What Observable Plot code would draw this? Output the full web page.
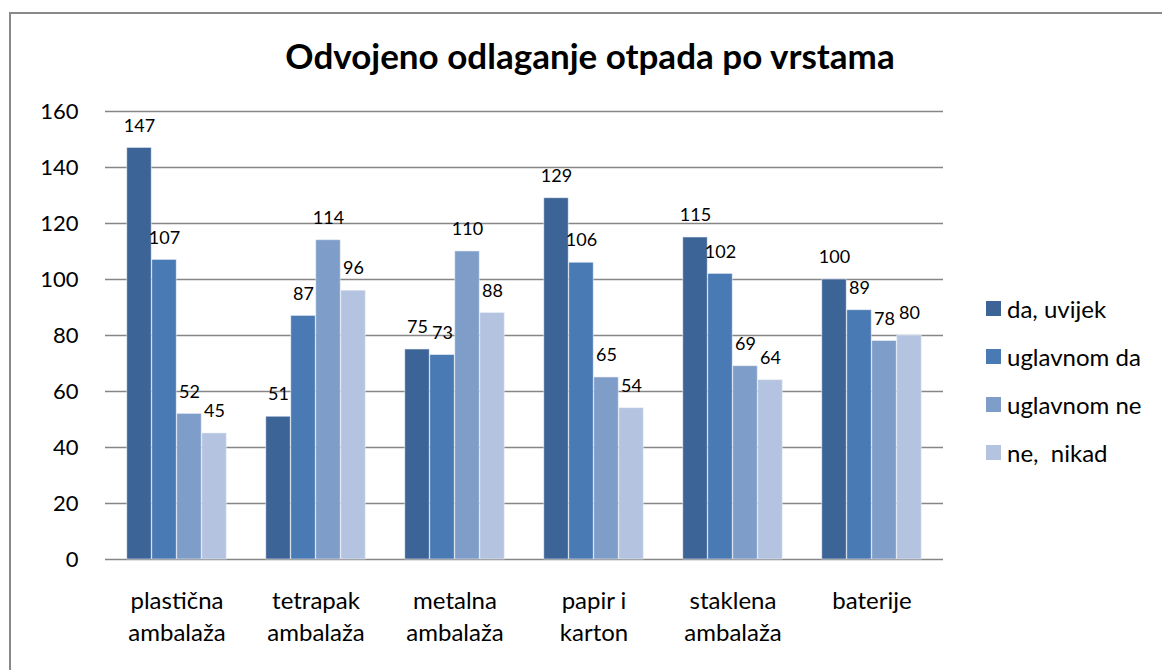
<!DOCTYPE html>
<html>
<head>
<meta charset="utf-8">
<script src="https://cdn.jsdelivr.net/npm/d3@7"></script>
<script src="https://cdn.jsdelivr.net/npm/@observablehq/plot@0.6"></script>
<style>
  body { margin: 0; background: #fff; font-family: Lato, "Open Sans", sans-serif; }
  #wrap { position: relative; width: 1162px; height: 670px; overflow: hidden; background: #fff; }
  #frame { position: absolute; left: 9px; top: 12px; width: 1200px; height: 700px; border-left: 2px solid #898989; border-top: 2px solid #898989; }
  #title { position: absolute; left: 0; width: 1180px; top: 34px; text-align: center; font-weight: 700; font-size: 35px; color: #000; }
  #chart { position: absolute; left: 0; top: 0; }
  #legend { position: absolute; left: 986px; top: 284px; font-size: 24px; color: #000; }
  .li { display: flex; align-items: center; height: 48px; }
  .sw { width: 15px; height: 15px; margin-right: 6px; }
</style>
</head>
<body>
<div id="wrap">
  <div id="frame"></div>
  <div id="chart"></div>
  <div id="title">Odvojeno odlaganje otpada po vrstama</div>
  <div id="legend"></div>
</div>
<script>
const categories = ["plastična\nambalaža", "tetrapak\nambalaža", "metalna\nambalaža", "papir i\nkarton", "staklena\nambalaža", "baterije"];
const series = ["da, uvijek", "uglavnom da", "uglavnom ne", "ne,  nikad"];
const colors = ["#3d6496", "#4a7ab3", "#7f9dc9", "#b4c3df"];
const daUvijek   = [147, 51, 75, 129, 115, 100];
const uglavnomDa = [107, 87, 73, 106, 102, 89];
const uglavnomNe = [52, 114, 110, 65, 69, 78];
const neNikad    = [45, 96, 88, 54, 64, 80];
const yTicks = [0, 20, 40, 60, 80, 100, 120, 140, 160];

const valuesBySeries = [daUvijek, uglavnomDa, uglavnomNe, neNikad];

const W = 1162, H = 670, mL = 105, mR = 219, mT = 111, mB = 111;
const step = (W - mL - mR) / categories.length;
const barW = 25;
const groupW = barW * series.length;
const off = (step - groupW) / 2;

const seriesMarks = [];
series.forEach((s, j) => {
  const rows = categories.map((c, i) => ({cat: c, series: s, value: valuesBySeries[j][i]}));
  const inL = off + j * barW;
  const inR = step - inL - barW;
  seriesMarks.push(Plot.barY(rows, {x: "cat", y: "value", fill: colors[j], insetLeft: inL, insetRight: inR, stroke: "#e6ecf5", strokeWidth: 0.6}));
  seriesMarks.push(Plot.text(rows, {x: "cat", y: "value", text: d => String(d.value), dx: inL + barW / 2 - step / 2, dy: -22, fontSize: 18, fill: "#000"}));
});

const chart = Plot.plot({
  width: W,
  height: H,
  marginLeft: mL,
  marginRight: mR,
  marginTop: mT,
  marginBottom: mB,
  style: {fontFamily: "Lato, 'Open Sans', sans-serif", background: "transparent", color: "#000"},
  x: {domain: categories, padding: 0},
  y: {domain: [0, 160]},
  marks: [
    Plot.gridY(yTicks, {stroke: "#868686", strokeOpacity: 1, strokeWidth: 1.5}),
    Plot.ruleX([0], {frameAnchor: "left", stroke: "#868686", strokeWidth: 1.5}),
    ...seriesMarks,
    Plot.axisY({ticks: yTicks, tickSize: 0, tickPadding: 27, fontSize: 22, label: null}),
    Plot.axisX({tickSize: 0, tickPadding: 27, fontSize: 24, lineHeight: 1.33, label: null})
  ]
});
document.getElementById("chart").appendChild(chart);

const legend = document.getElementById("legend");
series.forEach((s, j) => {
  const row = document.createElement("div");
  row.className = "li";
  const sw = document.createElement("div");
  sw.className = "sw";
  sw.style.background = colors[j];
  const t = document.createElement("span");
  t.textContent = s;
  t.style.whiteSpace = "pre";
  row.appendChild(sw);
  row.appendChild(t);
  legend.appendChild(row);
});
</script>
</body>
</html>
